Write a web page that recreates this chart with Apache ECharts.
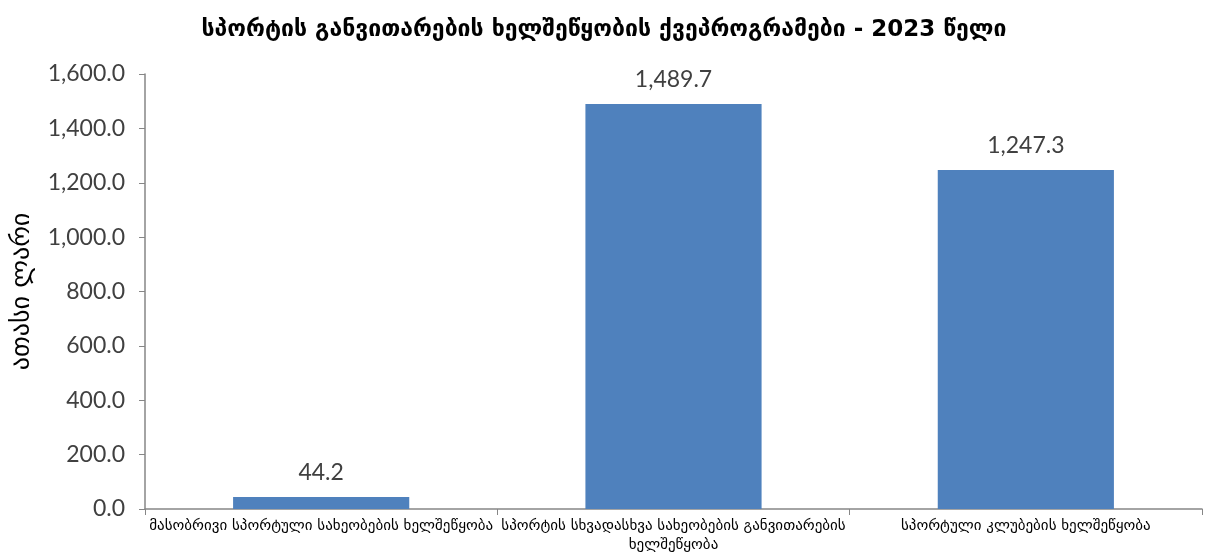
<!DOCTYPE html>
<html><head><meta charset="utf-8">
<script src="https://cdn.jsdelivr.net/npm/echarts@6/dist/echarts.min.js"></script>
<style>html,body{margin:0;padding:0;background:#fff}#c{width:1208px;height:555px}</style>
</head><body><div id="c"></div>
<script>
const title = 'სპორტის განვითარების ხელშეწყობის ქვეპროგრამები - 2023 წელი';
const yName = 'ათასი ლარი';
const categories = ['მასობრივი სპორტული სახეობების ხელშეწყობა', 'სპორტის სხვადასხვა სახეობების განვითარების ხელშეწყობა', 'სპორტული კლუბების ხელშეწყობა'];
const values = [44.2, 1489.7, 1247.3];
const yTicks = {min: 0, max: 1600, interval: 200};

const fmt = v => Number(v).toLocaleString('en-US', {minimumFractionDigits: 1, maximumFractionDigits: 1});
const wrapLong = s => { if (s.length <= 45) return s; const i = s.lastIndexOf(' '); return s.slice(0, i) + '\n' + s.slice(i + 1); };
const chart = echarts.init(document.getElementById('c'));
chart.setOption({
  animation: false,
  title: {text: title, left: 'center', top: 14, textStyle: {fontFamily: 'DejaVu Sans', fontSize: 23, fontWeight: 'bold', color: '#000'}},
  grid: {left: 145, right: 6, top: 74, bottom: 46, containLabel: false},
  xAxis: {
    type: 'category', data: categories,
    axisLine: {lineStyle: {color: '#868686', width: 1.5}},
    axisTick: {show: true, alignWithLabel: false, length: 6, lineStyle: {color: '#868686'}},
    axisLabel: {interval: 0, formatter: wrapLong, fontFamily: 'DejaVu Sans', fontSize: 15, color: '#000', margin: 8, lineHeight: 19}
  },
  yAxis: {
    type: 'value', min: yTicks.min, max: yTicks.max, interval: yTicks.interval,
    name: yName, nameLocation: 'middle', nameGap: 110, nameRotate: 90,
    nameTextStyle: {fontFamily: 'DejaVu Sans', fontSize: 26, color: '#000'},
    splitLine: {show: false},
    axisLine: {show: true, lineStyle: {color: '#868686', width: 1.5}},
    axisTick: {show: true, length: 6, lineStyle: {color: '#868686'}},
    axisLabel: {formatter: fmt, fontFamily: 'Lato', fontSize: 23, color: '#404040', margin: 20}
  },
  series: [{
    type: 'bar', data: values, barCategoryGap: '50%',
    itemStyle: {color: '#4F81BD'},
    label: {show: true, position: 'top', distance: 13, formatter: p => fmt(p.value), fontFamily: 'Lato', fontSize: 23, color: '#404040'}
  }]
});
</script></body></html>
